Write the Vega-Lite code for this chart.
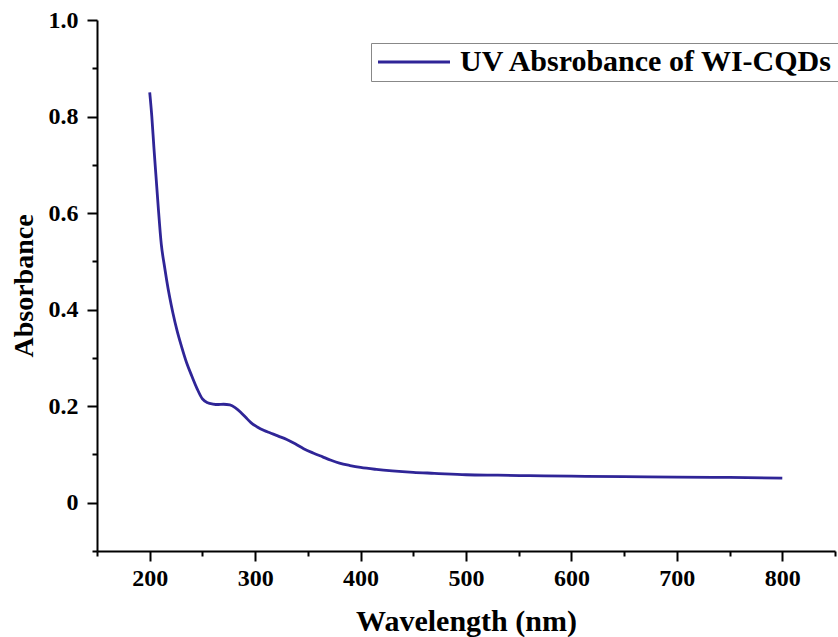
{
  "$schema": "https://vega.github.io/schema/vega-lite/v6.json",
  "autosize": {"type": "none"},
  "padding": {"left": 97, "top": 20, "right": 3, "bottom": 86},
  "width": 738,
  "height": 531,
  "background": "white",
  "config": {
    "view": {"stroke": null},
    "axis": {
      "labelFont": "Liberation Serif",
      "labelFontWeight": "bold",
      "labelFontSize": 24,
      "labelColor": "black",
      "titleFont": "Liberation Serif",
      "titleFontWeight": "bold",
      "titleFontSize": 28,
      "titleColor": "black",
      "domainColor": "black",
      "domainWidth": 2,
      "tickColor": "black",
      "tickWidth": 2,
      "grid": false
    }
  },
  "data": {
    "values": [
      {"w": 200, "a": 0.85, "s": "UV Absrobance of WI-CQDs"},
      {"w": 202, "a": 0.80, "s": "UV Absrobance of WI-CQDs"},
      {"w": 204, "a": 0.735, "s": "UV Absrobance of WI-CQDs"},
      {"w": 206, "a": 0.675, "s": "UV Absrobance of WI-CQDs"},
      {"w": 208, "a": 0.615, "s": "UV Absrobance of WI-CQDs"},
      {"w": 211, "a": 0.535, "s": "UV Absrobance of WI-CQDs"},
      {"w": 214, "a": 0.49, "s": "UV Absrobance of WI-CQDs"},
      {"w": 216, "a": 0.462, "s": "UV Absrobance of WI-CQDs"},
      {"w": 219, "a": 0.425, "s": "UV Absrobance of WI-CQDs"},
      {"w": 222, "a": 0.393, "s": "UV Absrobance of WI-CQDs"},
      {"w": 226, "a": 0.356, "s": "UV Absrobance of WI-CQDs"},
      {"w": 230, "a": 0.325, "s": "UV Absrobance of WI-CQDs"},
      {"w": 235, "a": 0.29, "s": "UV Absrobance of WI-CQDs"},
      {"w": 240, "a": 0.262, "s": "UV Absrobance of WI-CQDs"},
      {"w": 245, "a": 0.236, "s": "UV Absrobance of WI-CQDs"},
      {"w": 250, "a": 0.215, "s": "UV Absrobance of WI-CQDs"},
      {"w": 255, "a": 0.207, "s": "UV Absrobance of WI-CQDs"},
      {"w": 260, "a": 0.2045, "s": "UV Absrobance of WI-CQDs"},
      {"w": 265, "a": 0.2035, "s": "UV Absrobance of WI-CQDs"},
      {"w": 270, "a": 0.204, "s": "UV Absrobance of WI-CQDs"},
      {"w": 276, "a": 0.2025, "s": "UV Absrobance of WI-CQDs"},
      {"w": 281, "a": 0.197, "s": "UV Absrobance of WI-CQDs"},
      {"w": 286, "a": 0.188, "s": "UV Absrobance of WI-CQDs"},
      {"w": 291, "a": 0.177, "s": "UV Absrobance of WI-CQDs"},
      {"w": 296, "a": 0.166, "s": "UV Absrobance of WI-CQDs"},
      {"w": 302, "a": 0.157, "s": "UV Absrobance of WI-CQDs"},
      {"w": 308, "a": 0.15, "s": "UV Absrobance of WI-CQDs"},
      {"w": 315, "a": 0.144, "s": "UV Absrobance of WI-CQDs"},
      {"w": 322, "a": 0.138, "s": "UV Absrobance of WI-CQDs"},
      {"w": 330, "a": 0.131, "s": "UV Absrobance of WI-CQDs"},
      {"w": 338, "a": 0.122, "s": "UV Absrobance of WI-CQDs"},
      {"w": 346, "a": 0.112, "s": "UV Absrobance of WI-CQDs"},
      {"w": 355, "a": 0.103, "s": "UV Absrobance of WI-CQDs"},
      {"w": 364, "a": 0.095, "s": "UV Absrobance of WI-CQDs"},
      {"w": 372, "a": 0.088, "s": "UV Absrobance of WI-CQDs"},
      {"w": 380, "a": 0.082, "s": "UV Absrobance of WI-CQDs"},
      {"w": 390, "a": 0.077, "s": "UV Absrobance of WI-CQDs"},
      {"w": 400, "a": 0.073, "s": "UV Absrobance of WI-CQDs"},
      {"w": 415, "a": 0.069, "s": "UV Absrobance of WI-CQDs"},
      {"w": 430, "a": 0.066, "s": "UV Absrobance of WI-CQDs"},
      {"w": 450, "a": 0.063, "s": "UV Absrobance of WI-CQDs"},
      {"w": 470, "a": 0.061, "s": "UV Absrobance of WI-CQDs"},
      {"w": 500, "a": 0.058, "s": "UV Absrobance of WI-CQDs"},
      {"w": 530, "a": 0.057, "s": "UV Absrobance of WI-CQDs"},
      {"w": 560, "a": 0.056, "s": "UV Absrobance of WI-CQDs"},
      {"w": 600, "a": 0.055, "s": "UV Absrobance of WI-CQDs"},
      {"w": 650, "a": 0.054, "s": "UV Absrobance of WI-CQDs"},
      {"w": 700, "a": 0.053, "s": "UV Absrobance of WI-CQDs"},
      {"w": 750, "a": 0.0525, "s": "UV Absrobance of WI-CQDs"},
      {"w": 800, "a": 0.051, "s": "UV Absrobance of WI-CQDs"}
    ]
  },
  "mark": {"type": "line", "strokeWidth": 2.8, "interpolate": "monotone"},
  "encoding": {
    "x": {
      "field": "w",
      "type": "quantitative",
      "title": "Wavelength (nm)",
      "scale": {"domain": [150, 850], "nice": false, "zero": false},
      "axis": {
        "values": [150, 200, 250, 300, 350, 400, 450, 500, 550, 600, 650, 700, 750, 800, 850],
        "labelExpr": "(datum.value % 100 === 0 && datum.value >= 200 && datum.value <= 800) ? format(datum.value, 'd') : ''",
        "tickSize": {"condition": {"test": "datum.value % 100 === 0", "value": 10}, "value": 5},
        "labelPadding": 5,
        "titlePadding": 16,
        "titleFontSize": 30,
        "labelFlush": false
      }
    },
    "y": {
      "field": "a",
      "type": "quantitative",
      "title": "Absorbance",
      "scale": {"domain": [-0.1, 1.0], "nice": false, "zero": false},
      "axis": {
        "values": [-0.1, 0, 0.1, 0.2, 0.3, 0.4, 0.5, 0.6, 0.7, 0.8, 0.9, 1.0],
        "labelExpr": "abs(round(datum.value * 10)) % 2 === 0 ? (datum.value === 0 ? '0' : format(datum.value, '.1f')) : ''",
        "tickSize": {"condition": {"test": "abs(round(datum.value * 10)) % 2 === 0", "value": 10}, "value": 5},
        "labelPadding": 9,
        "titlePadding": 10,
        "labelFlush": false
      }
    },
    "color": {
      "field": "s",
      "type": "nominal",
      "scale": {"range": ["#2f2597"]},
      "legend": {
        "title": null,
        "orient": "none",
        "legendX": 274,
        "legendY": 23,
        "symbolType": "M-1,0H5",
        "symbolSize": 576,
        "symbolStrokeWidth": 3,
        "labelFont": "Liberation Serif",
        "labelFontWeight": "bold",
        "labelFontSize": 30,
        "labelColor": "black",
        "labelLimit": 1000,
        "strokeColor": "#888888",
        "fillColor": "white",
        "padding": 4,
        "labelOffset": 55,
        "cornerRadius": 0
      }
    }
  }
}
